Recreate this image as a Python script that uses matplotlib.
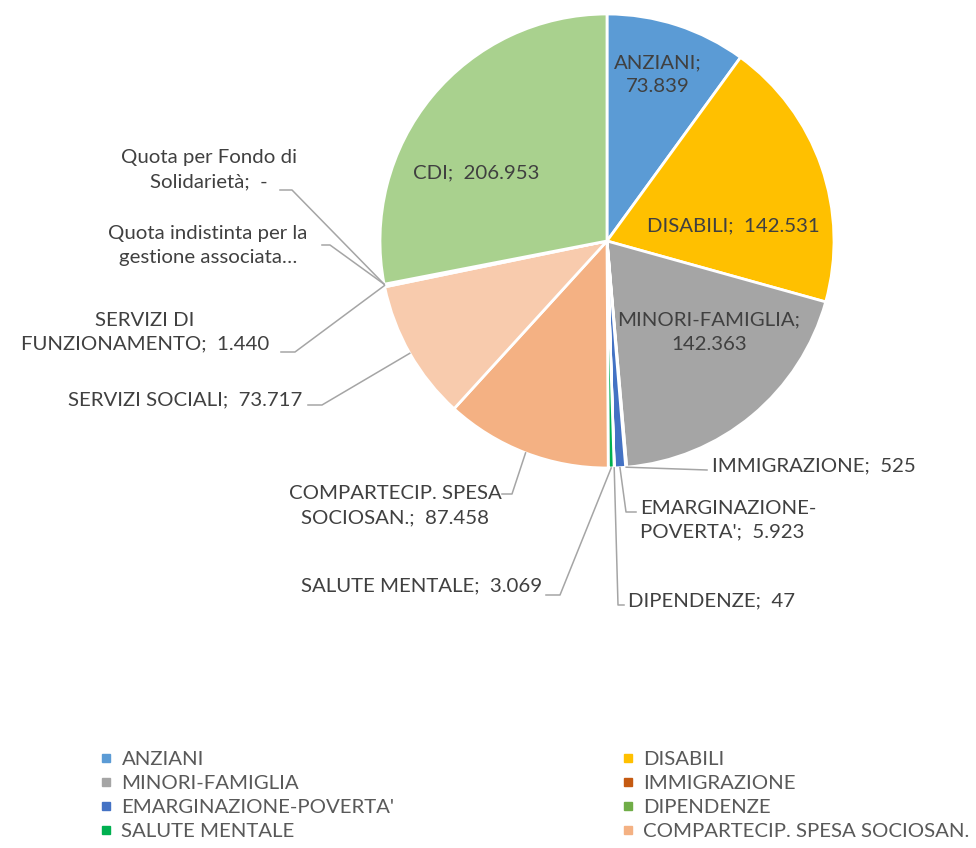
import numpy as np
import matplotlib.pyplot as plt
from matplotlib.lines import Line2D

plt.rcParams['font.family'] = ['Lato', 'DejaVu Sans']

# dati
categorie = ["ANZIANI", "DISABILI", "MINORI-FAMIGLIA", "IMMIGRAZIONE",
             "EMARGINAZIONE-POVERTA'", "DIPENDENZE", "SALUTE MENTALE",
             "COMPARTECIP. SPESA SOCIOSAN.", "SERVIZI SOCIALI",
             "SERVIZI DI FUNZIONAMENTO", "Quota indistinta per la gestione associata",
             "Quota per Fondo di Solidarietà", "CDI"]
valori = [73839, 142531, 142363, 525, 5923, 47, 3069, 87458, 73717, 1440, 0, 0, 206953]
etichette = ["ANZIANI;\n73.839", "DISABILI;  142.531", "MINORI-FAMIGLIA;\n142.363",
             "IMMIGRAZIONE;  525", "EMARGINAZIONE-\nPOVERTA';  5.923", "DIPENDENZE;  47",
             "SALUTE MENTALE;  3.069", "COMPARTECIP. SPESA\nSOCIOSAN.;  87.458",
             "SERVIZI SOCIALI;  73.717", "SERVIZI DI\nFUNZIONAMENTO;  1.440",
             "Quota indistinta per la\ngestione associata…", "Quota per Fondo di\nSolidarietà;  -",
             "CDI;  206.953"]
colori = ["#5B9BD5", "#FFC000", "#A5A5A5", "#C55A11", "#4472C4", "#70AD47", "#00B050",
          "#F4B183", "#F8CBAD", "#FBE5D6", "#DEEBF7", "#E2F0D9", "#A9D18E"]

# geometria in pixel della torta
W, H = 976, 848
cx, cy, R = 607, 241, 227

def P(x, y):
    # pixel -> coordinate dati della torta
    return ((x - cx) / R, (cy - y) / R)

fig = plt.figure(figsize=(W / 100, H / 100), dpi=100)
ax = fig.add_axes([(cx - R) / W, (H - cy - R) / H, 2 * R / W, 2 * R / H])
wedges, _ = ax.pie(valori, colors=colori, startangle=90, counterclock=False, radius=1,
                   wedgeprops=dict(edgecolor='white', linewidth=2))
ax.set_xlim(-1, 1)
ax.set_ylim(-1, 1)
ax.set_aspect('equal')
ax.axis('off')

txt = '#404040'
fs = 14.7
ls = 1.5

# etichette interne
interne = {0: (658, 75), 1: (733, 226), 2: (709, 332), 12: (476, 173)}
for i, (x, y) in interne.items():
    ax.text(*P(x, y), etichette[i], ha='center', va='center', fontsize=fs, color=txt,
            linespacing=ls)

# etichette esterne con linee guida: (indice, pos testo, ha, punti gomito)
esterne = [
    (3, (712, 466), 'left', [(707, 470)]),
    (4, (640, 520), 'left', [(626, 512), (636, 512)]),
    (5, (628, 601), 'left', [(618, 605), (624, 605)]),
    (6, (542, 586), 'right', [(560, 595), (546, 595)]),
    (7, (395, 506), 'center', [(512, 494), (502, 494)]),
    (8, (302, 400), 'right', [(322, 405), (308, 405)]),
    (9, (145, 332), 'center', [(295, 352), (281, 352)]),
    (10, (208, 246), 'center', [(330, 245), (322, 245)]),
    (11, (209, 170), 'center', [(292, 190), (280, 190)]),
]
for i, pos, ha, gomiti in esterne:
    w = wedges[i]
    ang = np.deg2rad((w.theta1 + w.theta2) / 2)
    pts = [(np.cos(ang), np.sin(ang))] + [P(*g) for g in gomiti]
    xs, ys = zip(*pts)
    ax.plot(xs, ys, color='#A5A5A5', lw=1.1, clip_on=False, zorder=1)
    ax.text(*P(*pos), etichette[i], ha=ha, va='center', fontsize=fs, color=txt,
            multialignment='center' if ha != 'left' else 'left', linespacing=ls)

# legenda (prime 8 voci, due colonne)
def handle(c):
    return Line2D([], [], marker='s', color=c, linestyle='None', markersize=6)

for col, x0 in ((0, 98 / W), (1, 620 / W)):
    idx = [i for i in range(8) if i % 2 == col]
    fig.legend([handle(colori[i]) for i in idx], [categorie[i] for i in idx],
               loc='upper left', bbox_to_anchor=(x0, 1 - 751 / H), frameon=False,
               fontsize=fs, labelcolor='#595959', handlelength=0.8, handletextpad=0.35,
               labelspacing=0.33, borderpad=0, borderaxespad=0)

fig.savefig('out.png', dpi=100)
